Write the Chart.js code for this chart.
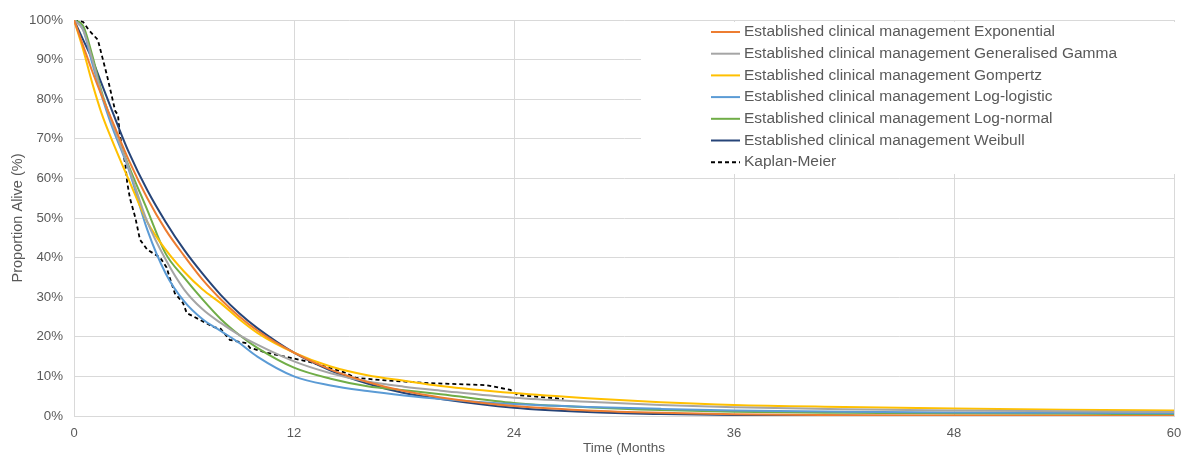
<!DOCTYPE html>
<html>
<head>
<meta charset="utf-8">
<script src="https://cdn.jsdelivr.net/npm/chart.js@4.4.0/dist/chart.umd.min.js"></script>
<style>
    html, body { margin: 0; padding: 0; background: #fff; }
    #wrap { width: 1183px; height: 456px; position: relative; }
</style>
</head>
<body>
<div id="wrap"><canvas id="survivalChart"></canvas></div>
<script>
// Time points (months) for the fitted curves
const months = [0, 0.5, 1, 1.5, 2, 3, 4, 5, 6, 7, 8, 9, 10, 12, 14, 16, 18, 20, 24, 28, 32, 36, 42, 48, 54, 60];

// Proportion alive (%)
const exponential = [100, 93.5, 87, 81, 75.5, 64.5, 55, 47, 40.5, 34.5, 29.5, 25.2, 21.6, 16, 11.7, 8.6, 6.3, 4.7, 2.5, 1.4, 0.8, 0.45, 0.2, 0.1, 0.05, 0];
const genGamma = [100, 97.5, 90, 81.5, 75, 62.5, 49, 39.5, 32, 27, 23.5, 20.5, 18, 13.8, 10.8, 8.7, 7.4, 6.4, 4.6, 3.6, 2.8, 2.2, 1.7, 1.4, 1.2, 1.0];
const gompertz = [100, 92.5, 84, 76.5, 70.5, 59.5, 49, 42, 36.5, 32, 28.5, 24.5, 21, 16, 12.5, 10.3, 8.9, 7.6, 5.8, 4.5, 3.5, 2.8, 2.3, 1.9, 1.6, 1.4];
const logLogistic = [100, 97.5, 89, 81, 74, 62, 47, 36, 29, 24.5, 21.5, 18.5, 15, 10, 7.7, 6.3, 5.2, 4.3, 3.0, 2.3, 1.8, 1.4, 1.1, 0.9, 0.8, 0.7];
const logNormal = [100, 98.5, 91, 82, 75, 63, 52, 41, 35, 29.5, 24.5, 20.5, 17.2, 12.2, 9.4, 7.5, 6.5, 5.5, 3.3, 2.2, 1.5, 1.1, 0.8, 0.6, 0.55, 0.5];
const weibull = [100, 95, 90, 84, 78, 66.5, 57, 49, 42, 36, 30.6, 26, 22.2, 16, 11.5, 8.2, 5.8, 4.3, 2.1, 1.0, 0.5, 0.25, 0.1, 0, 0, 0];

// Kaplan-Meier observed curve
const kmMonths = [0, 0.5, 0.8, 1.3, 1.55, 1.8, 2.0, 2.25, 2.4, 2.5, 2.8, 2.9, 3.05, 3.35, 3.6, 4.0, 4.7, 5.05, 5.25, 5.5, 5.95, 6.15, 6.9, 7.6, 8.0, 8.5, 9.4, 9.6, 10.5, 11.6, 12.9, 14.7, 15.4, 17.0, 19.4, 22.5, 23.8, 24.2, 26.7];
const kaplanMeier = [100, 99.5, 97.5, 95, 90.5, 86, 82, 77, 76, 71, 63.5, 59, 55, 50, 44.5, 42, 40, 37.5, 34.5, 31, 28.5, 26, 24.2, 22.5, 22, 19.2, 18.4, 17.2, 16, 14.9, 13.6, 11.1, 9.6, 9.0, 8.3, 7.8, 6.6, 5.3, 4.3];

const xTicks = [0, 12, 24, 36, 48, 60];

function toPoints(xs, ys) {
    return xs.map((x, i) => ({ x: x, y: ys[i] }));
}

function curve(label, values, color) {
    return {
        label: label,
        data: toPoints(months, values),
        borderColor: color,
        borderWidth: 2,
        pointRadius: 0,
        cubicInterpolationMode: "monotone",
        fill: false
    };
}

// Legend sits inside the plot on a white box, like the original
const insetLegend = {
    id: "insetLegend",
    beforeDatasetsDraw(chart) {
        let ctx = chart.ctx;
        ctx.save();
        ctx.fillStyle = "#ffffff";
        ctx.fillRect(641, 22, chart.width - 641, 152);
        ctx.font = "15.5px 'Liberation Sans', Arial, sans-serif";
        ctx.textBaseline = "middle";
        chart.data.datasets.forEach((ds, i) => {
            let y = 32 + i * 21.7;
            ctx.strokeStyle = ds.borderColor;
            ctx.lineWidth = 2;
            ctx.setLineDash(ds.borderDash || []);
            ctx.beginPath();
            ctx.moveTo(711, y);
            ctx.lineTo(740, y);
            ctx.stroke();
            ctx.fillStyle = "#595959";
            ctx.fillText(ds.label, 744, y);
        });
        ctx.restore();
    }
};

let ctx = document.getElementById("survivalChart").getContext("2d");

new Chart(ctx, {
    type: "line",
    data: {
        datasets: [
            curve("Established clinical management Exponential", exponential, "#ED7D31"),
            curve("Established clinical management Generalised Gamma", genGamma, "#A5A5A5"),
            curve("Established clinical management Gompertz", gompertz, "#FFC000"),
            curve("Established clinical management Log-logistic", logLogistic, "#5B9BD5"),
            curve("Established clinical management Log-normal", logNormal, "#70AD47"),
            curve("Established clinical management Weibull", weibull, "#264478"),
            {
                label: "Kaplan-Meier",
                data: toPoints(kmMonths, kaplanMeier),
                borderColor: "#000000",
                borderWidth: 1.8,
                borderDash: [4, 3],
                pointRadius: 0,
                tension: 0,
                fill: false
            }
        ]
    },
    options: {
        responsive: true,
        maintainAspectRatio: false,
        animation: false,
        layout: { padding: { top: 20, right: 9, bottom: 0, left: 9 } },
        plugins: {
            legend: { display: false },
            tooltip: { enabled: false }
        },
        scales: {
            x: {
                type: "linear",
                min: 0,
                max: 60,
                afterBuildTicks: scale => {
                    scale.ticks = xTicks.map(v => ({ value: v }));
                },
                afterFit: scale => {
                    scale.height = 40;
                    scale.paddingLeft = 0;
                    scale.paddingRight = 0;
                },
                grid: { color: "#d9d9d9", lineWidth: 1, drawTicks: false },
                border: { color: "#d9d9d9" },
                ticks: {
                    color: "#595959",
                    padding: 10,
                    maxRotation: 0,
                    font: { family: "'Liberation Sans', Arial, sans-serif", size: 13 }
                },
                title: {
                    display: true,
                    text: "Time (Months",
                    color: "#595959",
                    padding: { top: 2, bottom: 0 },
                    font: { family: "'Liberation Sans', Arial, sans-serif", size: 13.5 }
                }
            },
            y: {
                min: 0,
                max: 100,
                afterFit: scale => { scale.width = 65; },
                grid: { color: "#d9d9d9", lineWidth: 1, drawTicks: false },
                border: { color: "#d9d9d9" },
                ticks: {
                    stepSize: 10,
                    color: "#595959",
                    padding: 11,
                    callback: v => v + "%",
                    font: { family: "'Liberation Sans', Arial, sans-serif", size: 13.3 }
                },
                title: {
                    display: true,
                    text: "Proportion Alive (%)",
                    color: "#595959",
                    padding: { top: 0, bottom: 2 },
                    font: { family: "'Liberation Sans', Arial, sans-serif", size: 14.5 }
                }
            }
        }
    },
    plugins: [insetLegend]
});
</script>
</body>
</html>
